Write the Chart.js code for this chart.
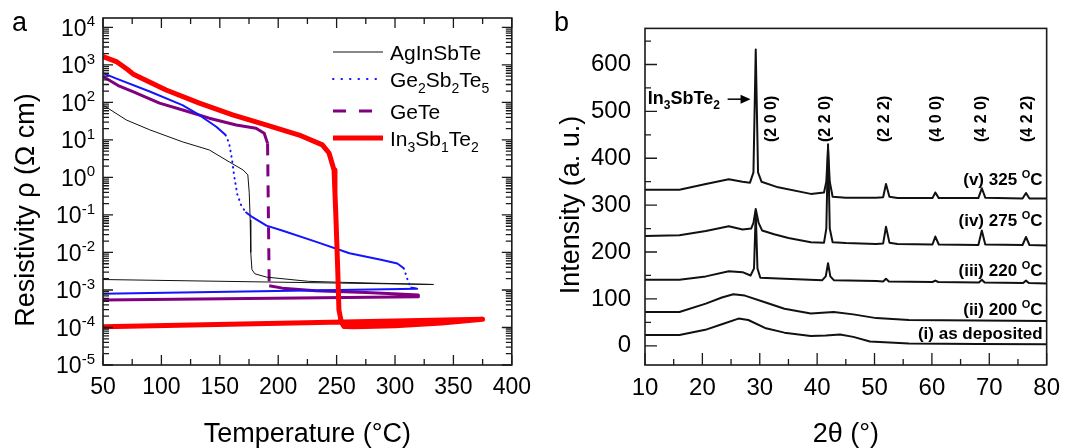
<!DOCTYPE html>
<html>
<head>
<meta charset="utf-8">
<script src="https://cdn.jsdelivr.net/npm/chart.js@4.4.1/dist/chart.umd.min.js"></script>
<style>
  body { margin: 0; background: #fff; }
  #wrap { position: relative; width: 1069px; height: 448px; }
  #panelA { position: absolute; left: 0; top: 0; }
  #panelB { position: absolute; left: 540px; top: 0; }
</style>
</head>
<body>
<div id="wrap">
  <canvas id="panelA" width="540" height="448"></canvas>
  <canvas id="panelB" width="529" height="448"></canvas>
</div>
<script>
// ---------- panel a : resistivity vs temperature ----------
const seriesNames = ['AgInSbTe', 'Ge_2Sb_2Te_5', 'GeTe', 'In_3Sb_1Te_2'];

const agTemp = [50, 70, 90, 118, 141, 158, 170, 174, 175.2, 176, 176.5, 177.5, 180, 190, 226, 255, 290, 333, 50];
const agRho = [85, 34, 18.6, 8.9, 5.4, 2.6, 1.58, 1.17, 0.39, 0.074, 0.01, 0.0035, 0.0027, 0.0022, 0.0017, 0.0016, 0.0015, 0.0014, 0.0019];

const gstTemp = [50, 61, 90, 118, 132, 147, 155, 158, 160.5, 162.4, 165, 168, 172, 178, 190, 204, 232, 261, 289, 302, 307.5, 310.5, 313.3, 319, 50];
const gstRho = [603, 437, 195, 85, 47, 22.4, 13.5, 8.1, 2.95, 1.05, 0.355, 0.19, 0.12, 0.087, 0.052, 0.038, 0.0195, 0.0095, 0.0063, 0.0051, 0.0038, 0.002, 0.00117, 0.00107, 0.00079];

const geteTemp = [50, 63, 75.6, 98.4, 118.3, 141, 164, 181, 188, 190.9, 192.3, 203.7, 232, 275, 303, 320, 320, 50];
const geteRho = [490, 282, 195, 95.5, 63, 38, 25, 20.4, 15.1, 8.1, 0.00129, 0.00112, 0.00095, 0.00085, 0.00078, 0.00074, 0.00066, 0.00054];

const istTemp = [50, 61.4, 71.3, 75.6, 81.3, 104, 132.5, 161, 189.5, 218, 237.8, 243.5, 247.8, 248.6, 249.5, 251, 252, 254, 256.3, 265, 300, 340, 375, 50];
const istRho = [1660, 1230, 741, 575, 468, 214, 95.5, 46.8, 25.1, 13.5, 7.4, 4.47, 1.58, 0.38, 0.074, 0.0032, 0.000295, 0.000141, 0.000107, 0.000105, 0.000112, 0.000132, 0.000166, 0.000105];

const tempTicks = [50, 100, 150, 200, 250, 300, 350, 400];
const tempMinor = [75, 125, 175, 225, 275, 325, 375];
const rhoTicks = [1e-5, 1e-4, 1e-3, 1e-2, 1e-1, 1, 10, 100, 1000, 10000];
const rhoLabels = ['10^{-5}', '10^{-4}', '10^{-3}', '10^{-2}', '10^{-1}', '10^{0}', '10^{1}', '10^{2}', '10^{3}', '10^{4}'];

// ---------- panel b : XRD patterns ----------
const xrdNames = ['(i) as deposited', '(ii) 200 ^OC', '(iii) 220 ^OC', '(iv) 275 ^OC', '(v) 325 ^OC'];
const xrdLabelY = [27.5, 79, 162, 269, 355];

const dep2t = [10, 16, 20.5, 23.4, 26.3, 28, 30.9, 34.3, 38.9, 41.5, 44, 46.3, 49.2, 56, 68, 80];
const depI = [23, 23, 34, 46, 58, 55, 38, 28, 21, 22, 24, 19, 9, 5, 4, 3.5];

const a200_2t = [10, 16, 20.6, 23.4, 25.4, 27.4, 30.9, 34.3, 38.9, 42.9, 46.3, 50.3, 56, 68, 80];
const a200_I = [72, 72, 90, 103, 110, 107, 93, 79, 69, 72, 67, 59, 55, 54, 53];

const a220_2t = [10, 16, 20.6, 24.6, 27, 28.4, 29.0, 29.3, 29.6, 30.1, 34.3, 40.9, 41.5, 41.9, 42.3, 42.9, 50.3, 51.5, 52, 52.5, 60.1, 60.6, 61.1, 68.2, 68.7, 69.2, 75.9, 76.4, 76.9, 80];
const a220_I = [141, 141, 148, 159, 157, 150, 165, 285, 165, 145, 143, 140, 148, 176, 148, 140, 138, 137, 143, 137, 136, 139, 136, 135, 141, 135, 134, 139, 134, 133];

const a275_2t = [10, 16, 20.6, 24.6, 27, 28.5, 28.9, 29.3, 29.8, 30.4, 32.5, 35, 38.9, 41.2, 41.6, 41.9, 42.2, 42.7, 45, 50.3, 51.5, 52, 52.6, 54, 60.1, 60.6, 61.2, 68.1, 68.7, 69.3, 75.8, 76.4, 77, 80];
const a275_I = [234, 236, 245, 255, 248, 250, 262, 292, 262, 246, 238, 230, 221, 220, 250, 430, 250, 221, 219, 217, 218, 254, 220, 217, 216, 233, 216, 215, 246, 216, 215, 232, 215, 214];

const a325_2t = [10, 16, 20.6, 24.6, 27, 28.3, 28.9, 29.3, 29.7, 30.3, 33.2, 38.9, 41.2, 41.6, 41.9, 42.2, 42.7, 45, 50.3, 51.5, 52, 52.6, 54, 60.1, 60.6, 61.2, 68.1, 68.7, 69.3, 75.8, 76.4, 77, 80];
const a325_I = [333, 333, 345, 355, 350, 348, 370, 632, 370, 350, 338, 324, 327, 350, 420, 350, 318, 316, 316, 317, 345, 318, 315, 315, 327, 315, 315, 336, 316, 314, 326, 314, 314];

const hklNames = ['(2 0 0)', '(2 2 0)', '(2 2 2)', '(4 0 0)', '(4 2 0)', '(4 2 2)'];
const hklPos = [32.0, 41.45, 51.74, 60.9, 68.6, 76.6];
const hklY = 484;

const thetaTicks = [10, 20, 30, 40, 50, 60, 70, 80];
const thetaMinor = [15, 25, 35, 45, 55, 65, 75];
const intTicks = [0, 100, 200, 300, 400, 500, 600];
const intMinor = [50, 150, 250, 350, 450, 550, 650];

const FONT = 'Arial, "Liberation Sans", Helvetica, sans-serif';

function pts(xs, ys) {
    return xs.map((x, i) => ({ x: x, y: ys[i] }));
}

// split "Ge_2Sb_2Te_5" / "10^{-4}" into normal, sub and super parts
function richParts(text) {
    const parts = [];
    let buf = '';
    let i = 0;
    while (i < text.length) {
        const c = text[i];
        if (c === '_' || c === '^') {
            if (buf) { parts.push({ t: buf, k: 0 }); buf = ''; }
            let s;
            if (text[i + 1] === '{') {
                const j = text.indexOf('}', i);
                s = text.slice(i + 2, j);
                i = j + 1;
            } else {
                s = text[i + 1];
                i += 2;
            }
            parts.push({ t: s, k: c === '_' ? -1 : 1 });
        } else {
            buf += c;
            i++;
        }
    }
    if (buf) parts.push({ t: buf, k: 0 });
    return parts;
}

function drawRich(ctx, text, x, y, size, opts) {
    opts = opts || {};
    const weight = opts.bold ? 'bold ' : '';
    const small = Math.round(size * 0.66);
    const parts = richParts(text);
    const fontFor = p => weight + (p.k ? small : size) + 'px ' + FONT;
    let w = 0;
    parts.forEach(p => { ctx.font = fontFor(p); p.w = ctx.measureText(p.t).width; w += p.w; });
    let cx = opts.align === 'right' ? x - w : (opts.align === 'center' ? x - w / 2 : x);
    const base = y + size * 0.36;
    ctx.save();
    ctx.fillStyle = '#000';
    ctx.textAlign = 'left';
    ctx.textBaseline = 'alphabetic';
    parts.forEach(p => {
        ctx.font = fontFor(p);
        const dy = p.k === -1 ? size * 0.3 : (p.k === 1 ? -size * 0.42 : 0);
        ctx.fillText(p.t, cx, base + dy);
        cx += p.w;
    });
    ctx.restore();
    return w;
}

function drawRotated(ctx, text, x, y, font) {
    ctx.save();
    ctx.translate(x, y);
    ctx.rotate(-Math.PI / 2);
    ctx.font = font;
    ctx.fillStyle = '#000';
    ctx.textAlign = 'center';
    ctx.textBaseline = 'middle';
    ctx.fillText(text, 0, 0);
    ctx.restore();
}

// dotted / dashed only where the curve is steep on screen
function steepStyle(dash, minSlope, cap) {
    const steep = c => {
        const dy = Math.abs(c.p1.y - c.p0.y);
        return dy > 3 && dy > minSlope * Math.abs(c.p1.x - c.p0.x);
    };
    return {
        borderDash: c => steep(c) ? dash : undefined,
        borderCapStyle: c => steep(c) ? cap : undefined
    };
}

// frame plus inward tick marks
function frameTicks(t) {
    return {
        id: 'frameTicks',
        afterDatasetsDraw(chart) {
            const ctx = chart.ctx;
            const a = chart.chartArea;
            const xs = chart.scales.x, ys = chart.scales.y;
            ctx.save();
            ctx.strokeStyle = '#1a1a1a';
            ctx.lineWidth = 1.3;
            ctx.beginPath();
            const xMark = (vals, len) => vals.forEach(v => {
                const p = xs.getPixelForValue(v);
                ctx.moveTo(p, a.bottom); ctx.lineTo(p, a.bottom - len);
                if (t.mirror) { ctx.moveTo(p, a.top); ctx.lineTo(p, a.top + len); }
            });
            const yMark = (vals, len) => vals.forEach(v => {
                const p = ys.getPixelForValue(v);
                if (p < a.top || p > a.bottom) return;
                ctx.moveTo(a.left, p); ctx.lineTo(a.left + len, p);
                if (t.mirror) { ctx.moveTo(a.right, p); ctx.lineTo(a.right - len, p); }
            });
            xMark(t.xMajor, t.major);
            xMark(t.xMinor, t.minor);
            yMark(t.yMajor, t.major);
            yMark(t.yMinor, t.minor);
            ctx.stroke();
            ctx.lineWidth = 1.6;
            ctx.strokeRect(a.left, a.top, a.right - a.left, a.bottom - a.top);
            ctx.restore();
        }
    };
}

const rhoMinor = [];
rhoTicks.slice(0, -1).forEach(d => { for (let m = 2; m < 10; m++) rhoMinor.push(d * m); });

const decoA = {
    id: 'decoA',
    afterDraw(chart) {
        const ctx = chart.ctx;
        const a = chart.chartArea;
        const ys = chart.scales.y;
        rhoTicks.forEach((v, i) => drawRich(ctx, rhoLabels[i], a.left - 8, ys.getPixelForValue(v), 23, { align: 'right' }));
        drawRotated(ctx, 'Resistivity \u03c1 (\u03a9 cm)', 27, 210, '27px ' + FONT);
        drawRich(ctx, 'a', 12, 21, 27);
        // legend
        const rows = [34, 61, 93, 120];
        chart.data.datasets.forEach((ds, i) => {
            const y = a.top + rows[i];
            ctx.save();
            ctx.strokeStyle = ds.borderColor;
            ctx.lineWidth = ds.borderWidth;
            ctx.setLineDash(ds.legendDash || []);
            ctx.lineCap = ds.legendCap || 'butt';
            ctx.beginPath();
            ctx.moveTo(a.left + 230, y);
            ctx.lineTo(a.left + 280, y);
            ctx.stroke();
            ctx.restore();
            drawRich(ctx, seriesNames[i], a.left + 287, y, 21);
        });
    }
};

new Chart(document.getElementById('panelA'), {
    type: 'line',
    data: {
        datasets: [
            { label: seriesNames[0], data: pts(agTemp, agRho), borderColor: '#111111', borderWidth: 1, order: 2 },
            { label: seriesNames[1], data: pts(gstTemp, gstRho), borderColor: '#1414ff', borderWidth: 2, order: 1,
              segment: steepStyle([0.5, 5], 1.3, 'round'), legendDash: [0.5, 8], legendCap: 'round' },
            { label: seriesNames[2], data: pts(geteTemp, geteRho), borderColor: '#800080', borderWidth: 3, order: 3,
              segment: steepStyle([12, 9], 4, 'butt'), legendDash: [13, 13] },
            { label: seriesNames[3], data: pts(istTemp, istRho), borderColor: '#ff0000', borderWidth: 5, order: 0 }
        ]
    },
    options: {
        responsive: false,
        animation: false,
        devicePixelRatio: 1,
        events: [],
        layout: { padding: { top: 18, right: 27, left: 0, bottom: 0 } },
        elements: { point: { radius: 0 }, line: { tension: 0, borderJoinStyle: 'round' } },
        plugins: { legend: { display: false }, tooltip: { enabled: false } },
        scales: {
            x: {
                type: 'linear', min: 50, max: 400,
                afterBuildTicks: s => { s.ticks = tempTicks.map(v => ({ value: v })); },
                afterFit: s => { s.height = 83; },
                grid: { display: false, drawTicks: false },
                border: { display: false },
                ticks: { padding: 9, color: '#000', font: { family: FONT, size: 23 }, callback: v => String(v) },
                title: { display: true, text: 'Temperature (\u00b0C)', color: '#000',
                         font: { family: FONT, size: 27, lineHeight: 1 }, padding: { top: 0, bottom: 0 } }
            },
            y: {
                type: 'logarithmic', min: 1e-5, max: 17800,
                afterBuildTicks: s => { s.ticks = rhoTicks.map(v => ({ value: v })); },
                afterFit: s => { s.width = 103; },
                grid: { display: false, drawTicks: false },
                border: { display: false },
                ticks: { display: false }
            }
        }
    },
    plugins: [frameTicks({ xMajor: tempTicks, xMinor: tempMinor, yMajor: rhoTicks, yMinor: rhoMinor,
                           major: 10, minor: 6, mirror: true }), decoA]
});

const decoB = {
    id: 'decoB',
    afterDraw(chart) {
        const ctx = chart.ctx;
        const a = chart.chartArea;
        const xs = chart.scales.x, ys = chart.scales.y;
        drawRotated(ctx, 'Intensity (a. u.)', 32, 205, '27px ' + FONT);
        drawRich(ctx, 'b', 14, 21, 27);
        hklNames.forEach((n, i) => drawRotated(ctx, n, xs.getPixelForValue(hklPos[i]), ys.getPixelForValue(hklY), 'bold 16px ' + FONT));
        xrdNames.forEach((n, i) => drawRich(ctx, n, xs.getPixelForValue(79.3), ys.getPixelForValue(xrdLabelY[i]), 17, { bold: true, align: 'right' }));
        // In3SbTe2 arrow label
        const ly = ys.getPixelForValue(530);
        drawRich(ctx, 'In_3SbTe_2', xs.getPixelForValue(10.5), ly, 18, { bold: true });
        const x0 = xs.getPixelForValue(24.4), x1 = xs.getPixelForValue(28.4);
        const ay = ys.getPixelForValue(526);
        ctx.save();
        ctx.strokeStyle = '#000';
        ctx.fillStyle = '#000';
        ctx.lineWidth = 1.5;
        ctx.beginPath();
        ctx.moveTo(x0, ay);
        ctx.lineTo(x1 - 8, ay);
        ctx.stroke();
        ctx.beginPath();
        ctx.moveTo(x1, ay);
        ctx.lineTo(x1 - 10, ay - 4.5);
        ctx.lineTo(x1 - 10, ay + 4.5);
        ctx.closePath();
        ctx.fill();
        ctx.restore();
    }
};

const xrdStyle = { borderColor: '#111111', borderWidth: 2 };

new Chart(document.getElementById('panelB'), {
    type: 'line',
    data: {
        datasets: [
            Object.assign({ label: xrdNames[0], data: pts(dep2t, depI) }, xrdStyle),
            Object.assign({ label: xrdNames[1], data: pts(a200_2t, a200_I) }, xrdStyle),
            Object.assign({ label: xrdNames[2], data: pts(a220_2t, a220_I) }, xrdStyle),
            Object.assign({ label: xrdNames[3], data: pts(a275_2t, a275_I) }, xrdStyle),
            Object.assign({ label: xrdNames[4], data: pts(a325_2t, a325_I) }, xrdStyle)
        ]
    },
    options: {
        responsive: false,
        animation: false,
        devicePixelRatio: 1,
        events: [],
        layout: { padding: { top: 18, right: 16, left: 0, bottom: 0 } },
        elements: { point: { radius: 0 }, line: { tension: 0, borderJoinStyle: 'round' } },
        plugins: { legend: { display: false }, tooltip: { enabled: false } },
        scales: {
            x: {
                type: 'linear', min: 10, max: 80,
                afterBuildTicks: s => { s.ticks = thetaTicks.map(v => ({ value: v })); },
                afterFit: s => { s.height = 83; },
                grid: { display: false, drawTicks: false },
                border: { display: false },
                ticks: { padding: 9, color: '#000', font: { family: FONT, size: 24 }, callback: v => String(v) },
                title: { display: true, text: '2\u03b8 (\u00b0)', color: '#000',
                         font: { family: FONT, size: 27, lineHeight: 1 }, padding: { top: 0, bottom: 0 } }
            },
            y: {
                type: 'linear', min: -41, max: 677,
                afterBuildTicks: s => { s.ticks = intTicks.map(v => ({ value: v })); },
                afterFit: s => { s.width = 105; },
                grid: { display: false, drawTicks: false },
                border: { display: false },
                ticks: { padding: 14, color: '#000', font: { family: FONT, size: 24 }, callback: v => String(v) }
            }
        }
    },
    plugins: [frameTicks({ xMajor: thetaTicks, xMinor: thetaMinor, yMajor: intTicks, yMinor: intMinor,
                           major: 12, minor: 6, mirror: false }), decoB]
});
</script>
</body>
</html>
